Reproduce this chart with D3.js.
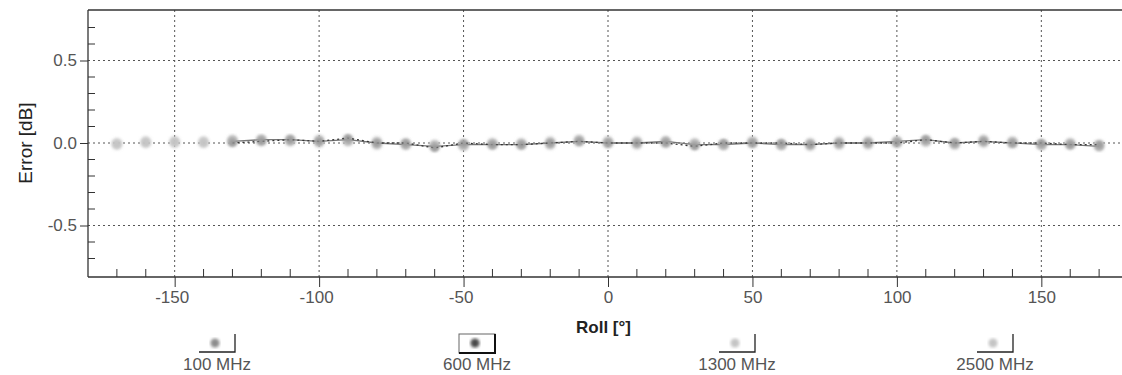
<!DOCTYPE html>
<html><head><meta charset="utf-8">
<script src="https://cdn.jsdelivr.net/npm/d3@7/dist/d3.min.js"></script>
<style>body{margin:0;background:#fff}svg{display:block;font-family:"Liberation Sans",Arial,sans-serif}</style>
</head><body><svg id="c" width="1122" height="375"></svg>
<script>
const angles = [-170,-160,-150,-140,-130,-120,-110,-100,-90,-80,-70,-60,-50,-40,-30,-20,-10,0,10,20,30,40,50,60,70,80,90,100,110,120,130,140,150,160,170];
const s100  = [null,null,null,null,0.01,0.02,0.02,0.01,0.02,0.0,-0.01,-0.02,-0.01,-0.01,-0.01,0.0,0.01,0.0,0.0,0.01,-0.01,-0.01,0.0,-0.01,-0.01,0.0,0.0,0.01,0.02,0.0,0.01,0.0,-0.01,-0.01,-0.02];
const s600  = [null,null,null,null,0.0,0.01,0.02,0.01,0.03,0.0,0.0,-0.03,0.0,-0.01,-0.01,0.0,0.01,0.0,0.0,0.0,-0.02,0.0,0.0,0.0,-0.01,0.0,0.0,0.0,0.02,0.0,0.01,0.0,0.0,-0.01,-0.01];
const s1300 = [-0.01,0.0,0.01,0.0,0.01,0.02,0.01,0.02,0.01,-0.01,-0.01,-0.02,-0.01,0.0,-0.01,-0.01,0.02,0.01,0.01,0.0,-0.01,-0.01,0.01,-0.01,0.0,-0.01,0.01,0.0,0.01,-0.01,0.02,0.0,-0.01,0.0,-0.01];
const s2500 = [0.0,0.01,0.0,0.01,0.02,0.01,0.02,0.0,0.02,0.01,0.0,-0.01,-0.02,-0.01,0.0,0.01,0.01,0.0,-0.01,0.01,0.0,-0.01,0.0,-0.01,-0.02,0.01,-0.01,0.01,0.01,0.0,0.0,0.01,-0.01,-0.01,-0.02];
const seriesNames = ["100 MHz","600 MHz","1300 MHz","2500 MHz"];
const xTicks = [-150,-100,-50,0,50,100,150];
const yTicks = [0.5,0.0,-0.5];

const svg = d3.select("#c");
const defs = svg.append("defs");
defs.append("filter").attr("id","blur").append("feGaussianBlur").attr("stdDeviation",1.4);

const x = d3.scaleLinear().domain([-180,180]).range([88,1128]);
const y = d3.scaleLinear().domain([-0.8,0.8]).range([275,11]);
const pTop = 10, pBot = 277, pLeft = 88, pRight = 1122;

// grid
const g = svg.append("g");
g.selectAll(".vg").data(xTicks).join("line")
  .attr("x1",d=>x(d)).attr("x2",d=>x(d)).attr("y1",pTop).attr("y2",pBot)
  .attr("stroke","#555").attr("stroke-width",1).attr("stroke-dasharray","2,3");
g.selectAll(".hg").data(yTicks).join("line")
  .attr("x1",pLeft).attr("x2",pRight).attr("y1",d=>y(d)).attr("y2",d=>y(d))
  .attr("stroke","#555").attr("stroke-width",1).attr("stroke-dasharray","2,3");

// frame
svg.append("line").attr("x1",pLeft).attr("x2",pRight).attr("y1",pTop).attr("y2",pTop).attr("stroke","#333").attr("stroke-width",1.5);
svg.append("line").attr("x1",pLeft).attr("x2",pRight).attr("y1",pBot).attr("y2",pBot).attr("stroke","#333").attr("stroke-width",1.3);
svg.append("line").attr("x1",pLeft).attr("x2",pLeft).attr("y1",pTop).attr("y2",pBot).attr("stroke","#333").attr("stroke-width",1.3);

// x axis ticks
const xAxis = d3.axisBottom(x).tickValues(xTicks).tickSize(10).tickPadding(4)
  .tickFormat(d=>String(d));
const xa = svg.append("g").attr("transform",`translate(0,${pBot})`).call(xAxis);
xa.select(".domain").remove();
xa.selectAll(".tick line").attr("stroke","#333");
xa.selectAll(".tick text").attr("font-size",17).attr("fill","#555").attr("dx",d=>d<0?-3:0);
const minorX = [-170,-160,-140,-130,-120,-110,-90,-80,-70,-60,-40,-30,-20,-10,10,20,30,40,60,70,80,90,110,120,130,140,160,170];
svg.append("g").selectAll("line").data(minorX).join("line")
  .attr("x1",d=>x(d)).attr("x2",d=>x(d)).attr("y1",pBot).attr("y2",pBot-8).attr("stroke","#333");

// y axis ticks
const yAxis = d3.axisLeft(y).tickValues(yTicks).tickSize(8).tickPadding(3)
  .tickFormat(d=>d.toFixed(1));
const ya = svg.append("g").attr("transform",`translate(${pLeft},0)`).call(yAxis);
ya.select(".domain").remove();
ya.selectAll(".tick line").attr("stroke","#333");
ya.selectAll(".tick text").attr("font-size",17).attr("fill","#555");
const minorY = [0.7,0.6,0.4,0.3,0.2,0.1,-0.1,-0.2,-0.3,-0.4,-0.6,-0.7];
svg.append("g").selectAll("line").data(minorY).join("line")
  .attr("x1",pLeft).attr("x2",pLeft+7).attr("y1",d=>y(d)).attr("y2",d=>y(d)).attr("stroke","#333");

// axis titles
svg.append("text").attr("transform","translate(32,143) rotate(-90)").attr("text-anchor","middle")
  .attr("font-size",19).attr("fill","#222").text("Error [dB]");
svg.append("text").attr("x",576).attr("y",333).attr("font-size",17).attr("font-weight","bold")
  .attr("fill","#222").text("Roll [°]");

// series
const series = [
  {name:seriesNames[3], vals:s2500, color:"#cfcfcf", line:null, r:5},
  {name:seriesNames[2], vals:s1300, color:"#c2c2c2", line:null, r:5},
  {name:seriesNames[0], vals:s100,  color:"#ababab", line:"#777", r:4.5, dash:null},
  {name:seriesNames[1], vals:s600,  color:"#999", line:"#333", r:3.5, dash:"2,3"}
];
const lineGen = d3.line().defined(d=>d.v!==null).x(d=>x(d.a)).y(d=>y(d.v));
series.forEach(s=>{
  const pts = angles.map((a,i)=>({a, v:s.vals[i]}));
  if (s.line) {
    svg.append("path").datum(pts).attr("d",lineGen).attr("fill","none")
      .attr("stroke",s.line).attr("stroke-width",1.3).attr("stroke-dasharray",s.dash);
  }
  svg.append("g").attr("filter","url(#blur)").selectAll("circle").data(pts.filter(d=>d.v!==null)).join("circle")
    .attr("cx",d=>x(d.a)).attr("cy",d=>y(d.v)).attr("r",s.r).attr("fill",s.color).attr("opacity",0.85);
});

// legend
const legX = [215,475,735,993];
const legColors = ["#8c8c8c","#4a4a4a","#c4c4c4","#c4c4c4"];
const lg = svg.append("g");
seriesNames.forEach((n,i)=>{
  const cx = legX[i];
  if (i===1) {
    lg.append("rect").attr("x",cx-16).attr("y",334).attr("width",36).attr("height",19)
      .attr("fill","none").attr("stroke","#666").attr("stroke-width",1);
    lg.append("path").attr("d",`M${cx-16},353 H${cx+20} V334`).attr("fill","none").attr("stroke","#111").attr("stroke-width",2);
  } else {
    lg.append("path").attr("d",`M${cx-16},352 H${cx+20} V334`).attr("fill","none").attr("stroke","#222").attr("stroke-width",1.3);
  }
  lg.append("circle").attr("cx",cx).attr("cy",343).attr("r",4.5).attr("fill",legColors[i]).attr("filter","url(#blur)");
  lg.append("text").attr("x",cx+2).attr("y",370).attr("text-anchor","middle").attr("font-size",17)
    .attr("fill","#555").text(n);
});
</script></body></html>
